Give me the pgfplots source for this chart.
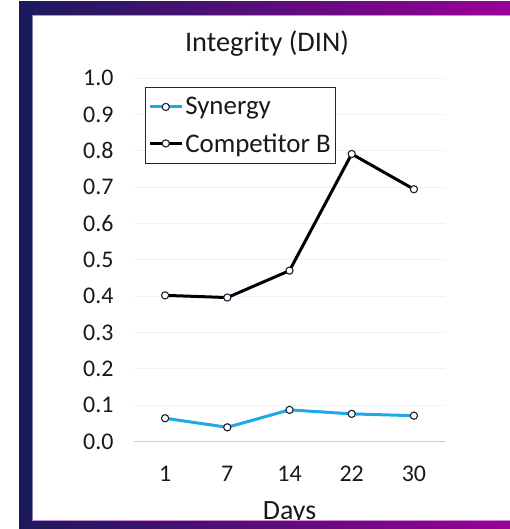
\documentclass[border=0pt]{standalone}
\usepackage{pgfplots}
\pgfplotsset{compat=1.18}
\usepackage{fontspec}
\setmainfont{Carlito}
\definecolor{navy}{HTML}{1B1A5C}
\definecolor{violet}{HTML}{990099}
\definecolor{synblue}{HTML}{1EA8E6}
\definecolor{ringdark}{HTML}{1A2030}

\pgfplotstableread{
idx days value
0 1  0.064
1 7  0.039
2 14 0.087
3 22 0.076
4 30 0.071
}\synergy
\pgfplotstableread{
idx days value
0 1  0.402
1 7  0.396
2 14 0.470
3 22 0.791
4 30 0.694
}\competitor

\begin{document}
\begin{tikzpicture}[x=1bp,y=1bp]
\path[use as bounding box] (0,0) rectangle (510,529);
% slide frame: top band and left bar
\shade[left color=navy,right color=violet] (19,513.8) rectangle (510,527.3);
\fill[navy] (19,0) rectangle (32.3,527.3);
\draw[violet!45,line width=0.6bp] (32.3,513.8) -- (510,513.8);
\draw[navy!55,line width=0.6bp] (32.3,8.3) -- (32.3,513.8);

\begin{axis}[
  at={(134bp,87.5bp)}, anchor=south west,
  scale only axis, width=311bp, height=363.5bp,
  xmin=-0.5, xmax=4.5, ymin=0, ymax=1,
  xtick={0,1,2,3,4}, xticklabels={1,7,14,22,30},
  ytick={0,0.1,...,1.0},
  /pgf/number format/assume math mode=true,
  y tick label style={/pgf/number format/fixed, /pgf/number format/fixed zerofill,
    /pgf/number format/precision=1, xshift=-17bp},
  tick label style={font=\fontsize{24}{28}\selectfont, text=black!90},
  x tick label style={yshift=-21bp},
  major tick length=0pt,
  axis x line*=bottom, axis y line*=left,
  x axis line style={draw=gray!40, line width=0.8bp},
  y axis line style={draw=none},
  ymajorgrids, grid style={gray!10, line width=0.6bp},
  title={Integrity (DIN)},
  title style={at={(axis description cs:0.4277,1)}, anchor=base, yshift=21bp,
    font=\fontsize{28.5}{32}\selectfont, text=black!90},
  xlabel={Days},
  xlabel style={font=\fontsize{28}{32}\selectfont, text=black!90, yshift=-13bp},
  legend style={at={(axis description cs:0.035,0.975)}, anchor=north west,
    draw=black!85, line width=0.8bp, font=\fontsize{27}{30}\selectfont,
    text=black!90, inner xsep=3bp, inner ysep=8bp, row sep=13bp,
    cells={anchor=west}},
  legend cell align=left,
  legend image code/.code={
    \draw[mark repeat=2,mark phase=2,#1] plot coordinates {(0bp,0bp) (16bp,0bp) (32bp,0bp)};
  },
]
\addplot[synblue, line width=3bp, mark=*, mark size=3.6bp,
  mark options={draw=ringdark, fill=white, line width=1.1bp}]
  table[x=idx, y=value] {\synergy};
\addlegendentry{Synergy}
\addplot[black, line width=3bp, mark=*, mark size=3.6bp,
  mark options={draw=ringdark, fill=white, line width=1.1bp}]
  table[x=idx, y=value] {\competitor};
\addlegendentry{Competitor B}
\end{axis}

% bottom band, laid over the lower edge of the axis label
\shade[left color=navy,right color=violet] (19,0) rectangle (510,8.3);
\draw[violet!45,line width=0.6bp] (32.3,8.3) -- (510,8.3);
\end{tikzpicture}
\end{document}
